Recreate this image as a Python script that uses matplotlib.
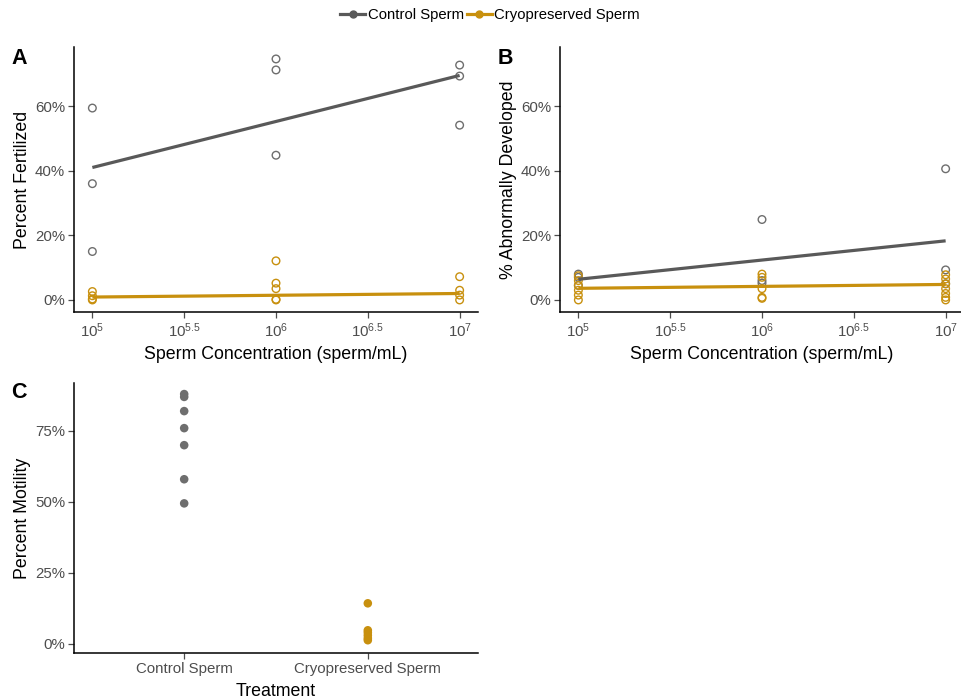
import numpy as np
import matplotlib
matplotlib.use("Agg")
import matplotlib.pyplot as plt
from matplotlib.lines import Line2D
from matplotlib.ticker import FuncFormatter

plt.rcParams['font.family'] = ['Liberation Sans', 'DejaVu Sans']
plt.rcParams['mathtext.fontset'] = 'custom'
plt.rcParams['mathtext.rm'] = 'Liberation Sans'
plt.rcParams['mathtext.it'] = 'Liberation Sans:italic'

# ---------------- data ----------------
treatments = ["Control Sperm", "Cryopreserved Sperm"]

# Panel A: percent fertilized
a_ctrl_conc = [1e5, 1e5, 1e5, 1e6, 1e6, 1e6, 1e7, 1e7, 1e7]
a_ctrl_val = [59.4, 36.0, 15.0, 74.6, 71.2, 44.8, 72.7, 69.3, 54.1]
a_cryo_conc = [1e5, 1e5, 1e5, 1e5, 1e6, 1e6, 1e6, 1e6, 1e6, 1e7, 1e7, 1e7, 1e7]
a_cryo_val = [2.6, 1.3, 0.3, 0.0, 12.1, 5.2, 3.5, 0.2, 0.0, 7.2, 3.0, 1.5, 0.0]

# Panel B: percent abnormally developed
b_ctrl_conc = [1e5, 1e5, 1e5, 1e6, 1e6, 1e6, 1e7, 1e7, 1e7]
b_ctrl_val = [8.0, 7.0, 4.5, 24.9, 6.0, 5.2, 40.6, 9.3, 5.0]
b_cryo_conc = [1e5] * 6 + [1e6] * 5 + [1e7] * 7
b_cryo_val = [7.5, 6.0, 4.5, 3.0, 1.5, 0.0,
              8.0, 7.0, 3.5, 0.8, 0.5,
              7.8, 6.5, 5.0, 3.5, 2.0, 0.8, 0.0]

# fitted trend lines (values at 1e5 and 1e7)
fit_conc = [1e5, 1e7]
a_ctrl_fit = [41.0, 69.5]
a_cryo_fit = [0.9, 2.0]
b_ctrl_fit = [6.4, 18.3]
b_cryo_fit = [3.6, 4.8]

# Panel C: percent motility
c_ctrl_val = [88.0, 87.0, 82.0, 76.0, 70.0, 58.0, 49.5]
c_cryo_val = [14.3, 4.8, 4.0, 3.0, 2.0, 1.3]

# ---------------- style ----------------
GREY_LINE = "#595959"
GREY_PT = "#6e6e6e"
GOLD = "#C8900E"
TICK_COL = "#4d4d4d"
TICK_FS = 10.8
TITLE_FS = 12.8

W, H = 961, 700
fig = plt.figure(figsize=(W / 100, H / 100), dpi=100)


def box(l, t, r, b):
    return [l / W, 1 - b / H, (r - l) / W, (b - t) / H]


def style_axes(ax):
    for s in ["top", "right"]:
        ax.spines[s].set_visible(False)
    for s in ["left", "bottom"]:
        ax.spines[s].set_linewidth(1.1)
        ax.spines[s].set_color("black")
    ax.tick_params(axis="both", colors=TICK_COL, labelcolor=TICK_COL,
                   labelsize=TICK_FS, length=4, width=0.9, direction="out", pad=2.5)


pct = FuncFormatter(lambda v, p: f"{v:.0f}%")
log_ticks = [1e5, 10 ** 5.5, 1e6, 10 ** 6.5, 1e7]
log_labels = [r"$10^{5}$", r"$10^{5.5}$", r"$10^{6}$", r"$10^{6.5}$", r"$10^{7}$"]
xlim = (10 ** 4.9, 10 ** 7.1)
ylim_ab = (-3.73, 78.3)


def conc_panel(ax, cc, cv, yc, yv, fc, fy_ctrl, fy_cryo, ylabel):
    ax.set_xscale("log")
    ax.scatter(cc, cv, s=30, facecolors="none", edgecolors=GREY_PT, linewidths=1.0, zorder=2)
    ax.scatter(yc, yv, s=30, facecolors="none", edgecolors=GOLD, linewidths=1.0, zorder=2)
    ax.plot(fc, fy_ctrl, color=GREY_LINE, lw=2.3, zorder=3, solid_capstyle="butt")
    ax.plot(fc, fy_cryo, color=GOLD, lw=2.3, zorder=3, solid_capstyle="butt")
    ax.set_xlim(*xlim)
    ax.set_ylim(*ylim_ab)
    ax.set_xticks(log_ticks)
    ax.set_xticklabels(log_labels)
    ax.minorticks_off()
    ax.set_yticks([0, 20, 40, 60])
    ax.yaxis.set_major_formatter(pct)
    style_axes(ax)
    ax.set_xlabel("Sperm Concentration (sperm/mL)", fontsize=TITLE_FS, color="black", labelpad=4.5)
    ax.set_ylabel(ylabel, fontsize=TITLE_FS, color="black", labelpad=3)


axA = fig.add_axes(box(74, 47, 478, 312))
conc_panel(axA, a_ctrl_conc, a_ctrl_val, a_cryo_conc, a_cryo_val,
           fit_conc, a_ctrl_fit, a_cryo_fit, "Percent Fertilized")

axB = fig.add_axes(box(560, 47, 964, 312))
conc_panel(axB, b_ctrl_conc, b_ctrl_val, b_cryo_conc, b_cryo_val,
           fit_conc, b_ctrl_fit, b_cryo_fit, "% Abnormally Developed")

axC = fig.add_axes(box(74, 383, 478, 653))
axC.scatter([0] * len(c_ctrl_val), c_ctrl_val, s=38, color=GREY_PT, edgecolors="none", zorder=2)
axC.scatter([1] * len(c_cryo_val), c_cryo_val, s=38, color=GOLD, edgecolors="none", zorder=2)
axC.set_xlim(-0.6, 1.6)
axC.set_ylim(-3.2, 91.9)
axC.set_xticks([0, 1])
axC.set_xticklabels(treatments)
axC.set_yticks([0, 25, 50, 75])
axC.yaxis.set_major_formatter(pct)
style_axes(axC)
axC.set_xlabel("Treatment", fontsize=TITLE_FS, color="black", labelpad=5)
axC.set_ylabel("Percent Motility", fontsize=TITLE_FS, color="black", labelpad=3)

# panel tags
fig.text(11 / W, 1 - 58 / H, "A", fontsize=15.5, fontweight="bold", va="center", ha="left")
fig.text(498 / W, 1 - 58 / H, "B", fontsize=15.5, fontweight="bold", va="center", ha="left")
fig.text(11 / W, 1 - 392 / H, "C", fontsize=15.5, fontweight="bold", va="center", ha="left")

# legend
handles = [Line2D([0], [0], color=GREY_LINE, lw=2.3, marker="o", markersize=5,
                  markerfacecolor=GREY_LINE, markeredgecolor=GREY_LINE),
           Line2D([0], [0], color=GOLD, lw=2.3, marker="o", markersize=5,
                  markerfacecolor=GOLD, markeredgecolor=GOLD)]
fig.legend(handles, treatments, loc="center", bbox_to_anchor=(490 / W, 1 - 15 / H),
           ncol=2, frameon=False, fontsize=10.7, handlelength=1.7, handletextpad=0.15,
           columnspacing=0.2)

fig.savefig("out.png", dpi=100)
